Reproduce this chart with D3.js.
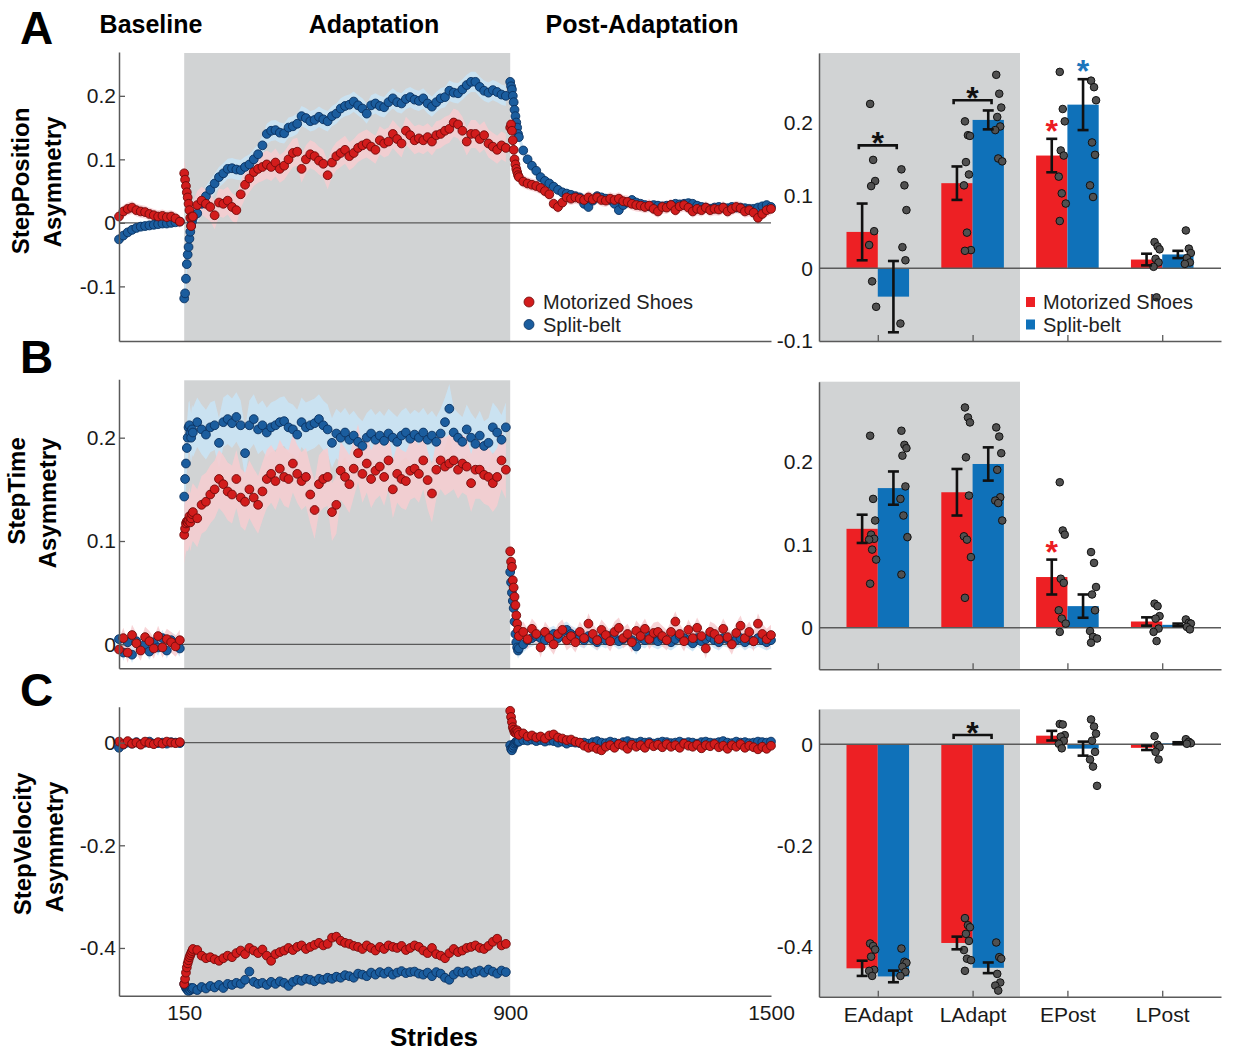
<!DOCTYPE html>
<html>
<head>
<meta charset="utf-8">
<script src="https://cdn.jsdelivr.net/npm/d3@7"></script>
<style>
  body { margin: 0; background: #fff; }
  svg text { font-family: "Liberation Sans", Arial, sans-serif; }
</style>
</head>
<body>
<svg id="fig" width="1246" height="1051"></svg>
<script>
// stride sampling for each phase (denser right after each transition)
const baseStrides = d3.range(0, 150, 10);
const adaptStrides = d3.range(150, 170, 2).concat(d3.range(170, 900, 10));
const postStrides = d3.range(900, 920, 2).concat(d3.range(920, 1501, 10));

// ---- time series, values x 0.001 ----
// StepPosition
const posShoeBase = [10, 18, 22, 24, 20, 18, 17, 14, 12, 10, 11, 9, 10, 7, 2];
const posShoeAdapt = [78, 68, 58, 48, 40, 30, 20, 8, -5, 10,
  10, 28, 35, 30, 25, 12, 32, 30, 35, 25,
  20, 45, 60, 70, 80, 85, 88, 92, 88, 95,
  85, 90, 100, 110, 112, 85, 100, 108, 105, 98,
  93, 75, 95, 105, 110, 115, 105, 110, 118, 122,
  125, 120, 115, 130, 125, 128, 140, 132, 125, 145,
  138, 130, 133, 130, 135, 128, 138, 140, 145, 148,
  158, 155, 145, 128, 140, 140, 132, 138, 125, 120,
  115, 122, 118];
const posShoePost = [150, 155, 145, 130, 115, 100, 92, 85, 80, 75,
  72, 65, 62, 60, 58, 55, 50, 45, 30, 25,
  32, 40, 38, 40, 38, 36, 40, 37, 40, 36,
  35, 38, 36, 38, 34, 33, 30, 28, 27, 25,
  27, 22, 18, 25, 24, 28, 20, 26, 28, 24,
  18, 22, 20, 24, 20, 22, 21, 24, 18, 22,
  25, 23, 18, 20, 16, 8, 14, 20, 22];
const posBeltBase = [-26, -20, -15, -11, -8, -6, -5, -4, -3, -2, -1, -1, 0, 1, 2];
const posBeltAdapt = [-119, -111, -88, -65, -50, -38, -25, -14, -5, 2,
  8, 15, 30, 42, 52, 62, 72, 78, 85, 86,
  84, 83, 88, 92, 100, 108, 122, 140, 145, 146,
  142, 141, 150, 152, 156, 168, 165, 160, 162, 167,
  163, 160, 168, 172, 180, 184, 186, 191, 185, 180,
  172, 185, 188, 184, 182, 190, 196, 190, 188, 195,
  198, 194, 192, 196, 188, 183, 190, 196, 198, 208,
  205, 204, 210, 217, 222, 222, 214, 208, 205, 209,
  206, 202, 200];
const posBeltPost = [222, 215, 210, 200, 190, 178, 168, 158, 150, 140,
  135, 114, 100, 90, 82, 72, 66, 62, 57, 52,
  48, 46, 44, 42, 40, 30, 25, 35, 42, 40,
  38, 36, 30, 20, 28, 32, 36, 32, 30, 28,
  26, 28, 27, 26, 27, 28, 30, 29, 30, 31,
  30, 27, 25, 24, 22, 24, 25, 24, 23, 25,
  24, 24, 23, 22, 22, 24, 26, 28, 25];

// StepTime
const timeShoeBase = [-5, 6, -8, 9, 1, -6, 7, 3, -4, 8, -3, 5, 2, -2, 4];
const timeShoeAdapt = [106, 112, 117, 119, 118, 120, 124, 118, 122, 126,
  128, 122, 135, 138, 145, 150, 160, 155, 148, 145,
  160, 142, 138, 150, 142, 135, 148, 160, 165, 158,
  170, 162, 160, 175, 165, 158, 162, 145, 130, 155,
  160, 162, 128, 135, 168, 162, 155, 170, 185, 165,
  175, 160, 168, 172, 162, 178, 150, 165, 160, 158,
  168, 170, 165, 178, 159, 146, 169, 178, 172, 175,
  178, 169, 175, 172, 156, 169, 169, 164, 162, 156,
  162, 178, 169];
const timeShoePost = [90, 80, 75, 62, 55, 46, 38, 28, 20, 14,
  8, 12, 5, 15, 10, -3, 12, 6, 0, 10,
  14, 4, 8, 2, 12, 6, 20, 10, 4, 14,
  9, 3, 12, 16, 6, 10, 2, 13, 8, 15,
  5, 11, 12, 8, 4, 12, 22, 10, 3, 14,
  6, 16, 8, -4, 12, 10, 5, 15, 7, 0,
  11, 18, 6, 12, 3, 20, 10, 5, 9];
const timeBeltBase = [5, -8, 2, -10, 3, -5, 0, -7, 2, -3, 6, -6, 4, 1, -4];
const timeBeltAdapt = [143, 160, 175, 190, 200, 210, 212, 205, 200, 208,
  205, 215, 208, 203, 210, 212, 195, 215, 218, 214,
  220, 212, 185, 212, 218, 208, 212, 205, 210, 212,
  215, 216, 210, 208, 203, 215, 210, 212, 214, 218,
  212, 208, 195, 204, 200, 205, 198, 202, 196, 192,
  200, 204, 198, 202, 197, 204, 200, 196, 202, 205,
  199, 203, 200, 205, 198, 202, 196, 204, 215, 228,
  205, 200, 196, 208, 200, 194, 202, 192, 195, 210,
  205, 198, 210];
const timeBeltPost = [70, 60, 50, 42, 35, 22, 10, 2, -3, -6,
  -4, 0, 4, 6, 8, 6, 4, 8, 10, 6,
  12, 14, 10, 8, 6, 4, 8, 5, 2, 6,
  4, 8, 6, 3, 5, 7, 4, -2, 6, 4,
  8, 5, 3, 6, 4, 2, 5, 8, 6, 4,
  1, 6, 3, 5, 7, 4, 2, 6, 5, 3,
  4, 6, 2, 5, 3, 6, 4, 2, 4];

// StepVelocity
const velShoeBase = [2, -3, 3, -2, 0, -4, 2, -1, -3, 1, -2, 2, 0, -1, 1];
const velShoeAdapt = [-470, -460, -448, -438, -430, -424, -418, -414, -410, -406,
  -402, -404, -415, -420, -418, -422, -425, -420, -415, -418,
  -410, -405, -412, -400, -405, -410, -403, -415, -425, -412,
  -408, -405, -400, -404, -398, -395, -402, -398, -394, -390,
  -395, -392, -380, -378, -386, -390, -392, -396, -398, -402,
  -395, -400, -405, -398, -402, -395, -398, -400, -396, -404,
  -400, -395, -398, -405, -410, -400, -412, -415, -420, -410,
  -402, -408, -405, -400, -398, -395, -400, -402, -396, -388,
  -382, -395, -392];
const velShoePost = [62, 50, 40, 30, 25, 20, 22, 18, 24, 20,
  15, 18, 12, 14, 10, 12, 8, 14, 16, 10,
  8, 5, 6, 2, 0, -6, -10, -8, -12, -15,
  -8, -5, -10, -3, -6, -12, -4, -8, -5, -10,
  -2, -7, -4, -9, -3, -8, -5, -10, -2, -6,
  -8, -4, -11, -5, -7, -3, -9, -6, -12, -5,
  -8, -3, -10, -6, -9, -13, -8, -12, -6];
const velBeltBase = [-10, -4, 0, -2, 1, -3, 0, 2, -2, -1, 0, -2, 1, 0, -1];
const velBeltAdapt = [-470, -474, -478, -480, -482, -484, -480, -482, -478, -480,
  -478, -482, -476, -479, -474, -477, -472, -478, -470, -472,
  -468, -470, -462, -446, -466, -470, -468, -472, -466, -470,
  -465, -468, -474, -466, -462, -464, -460, -462, -465, -460,
  -462, -458, -460, -456, -458, -453, -455, -458, -450, -452,
  -455, -448, -452, -447, -450, -446, -452, -448, -445, -449,
  -447, -446, -450, -452, -448, -455, -447, -450, -458, -462,
  -452, -446, -448, -445, -450, -447, -444, -448, -442, -446,
  -450, -444, -447];
const velBeltPost = [-5, -12, -15, -10, -6, -2, 0, 2, 3, 2,
  2, 5, 4, 6, 3, 5, 2, 4, 3, 0,
  2, -2, 1, 0, -1, 0, -2, 1, 3, 0,
  -1, 2, 0, -2, 1, 3, 0, -1, 2, 0,
  1, -2, 0, 2, 1, -1, 0, 2, -1, 1,
  0, -2, 1, 2, 0, -1, 1, 3, 0, -1,
  2, 0, 1, -1, 0, 2, 1, 0, 2];

// shaded SE half width per phase (base, adapt, post), x 0.001
const posBandShoe = [10, 22, 10];
const posBandBelt = [8, 16, 8];
const timeBandShoe = [10, 28, 10];
const timeBandBelt = [8, 24, 8];
const velBandShoe = [5, 8, 6];
const velBandBelt = [5, 7, 4];

// ---- epoch bars ----
const epochs = ['EAdapt', 'LAdapt', 'EPost', 'LPost'];
const groupNames = ['Motorized Shoes', 'Split-belt'];

const posShoeMean = [0.050, 0.117, 0.155, 0.012];
const posShoeSe = [0.039, 0.023, 0.023, 0.008];
const posBeltMean = [-0.039, 0.204, 0.225, 0.019];
const posBeltSe = [0.049, 0.013, 0.035, 0.005];
const posShoeSubj = [
  [0.226, 0.149, 0.120, 0.113, 0.051, 0.032, -0.018, -0.053],
  [0.202, 0.183, 0.182, 0.146, 0.129, 0.114, 0.049, 0.025, 0.024],
  [0.270, 0.219, 0.202, 0.162, 0.155, 0.126, 0.103, 0.089, 0.065],
  [0.036, 0.030, 0.026, 0.013, 0.008, 0.002, -0.040]
];
const posBeltSubj = [
  [0.136, 0.114, 0.080, 0.029, 0.011, -0.076],
  [0.266, 0.240, 0.221, 0.208, 0.195, 0.190, 0.151, 0.147],
  [0.258, 0.249, 0.231, 0.173, 0.156, 0.114, 0.098],
  [0.052, 0.027, 0.021, 0.014, 0.008, 0.006]
];

const timeShoeMean = [0.119, 0.163, 0.061, 0.0075];
const timeShoeSe = [0.017, 0.028, 0.021, 0.005];
const timeBeltMean = [0.168, 0.197, 0.026, 0.0035];
const timeBeltSe = [0.020, 0.020, 0.014, 0.0015];
const timeShoeSubj = [
  [0.231, 0.155, 0.129, 0.112, 0.107, 0.106, 0.094, 0.082, 0.053],
  [0.265, 0.253, 0.247, 0.205, 0.159, 0.110, 0.106, 0.085, 0.036],
  [0.175, 0.117, 0.112, 0.059, 0.054, 0.021, 0.011, 0.005, -0.005],
  [0.029, 0.026, 0.014, 0.011, -0.001, -0.005, -0.016]
];
const timeBeltSubj = [
  [0.237, 0.220, 0.216, 0.207, 0.170, 0.155, 0.135, 0.109, 0.064],
  [0.241, 0.230, 0.210, 0.190, 0.157, 0.153, 0.150, 0.129],
  [0.091, 0.078, 0.049, 0.040, 0.021, -0.004, -0.011, -0.013, -0.018],
  [0.010, 0.006, 0.005, 0.001, -0.002]
];

const velShoeMean = [-0.442, -0.392, 0.017, -0.007];
const velShoeSe = [0.015, 0.0125, 0.0095, 0.0043];
const velBeltMean = [-0.458, -0.441, -0.0086, 0.002];
const velBeltSe = [0.0115, 0.0105, 0.0138, 0.002];
const velShoeSubj = [
  [-0.393, -0.398, -0.405, -0.419, -0.445, -0.447, -0.457],
  [-0.343, -0.357, -0.361, -0.374, -0.388, -0.406, -0.423, -0.426, -0.447],
  [0.040, 0.039, 0.018, 0.015, 0.007, 0.001, -0.008],
  [0.016, -0.001, -0.006, -0.015, -0.030]
];
const velBeltSubj = [
  [-0.403, -0.429, -0.431, -0.439, -0.449, -0.457],
  [-0.391, -0.420, -0.423, -0.453, -0.470, -0.476, -0.486],
  [0.049, 0.035, 0.021, 0.007, -0.015, -0.030, -0.044, -0.082],
  [0.010, 0.005, 0.002, 0.001]
];

// significance: shoe vs belt brackets (epoch index, level) and stars vs baseline
const posPairs = [[0, 0.169], [1, 0.231]];
const posShoeStars = [2];
const posBeltStars = [2];
const timePairs = [];
const timeShoeStars = [2];
const timeBeltStars = [];
const velPairs = [[1, 0.0184]];
const velShoeStars = [];
const velBeltStars = [];

const phaseTitles = ['Baseline', 'Adaptation', 'Post-Adaptation'];
const strideTicks = [150, 900, 1500];

const Figure = function(root) {
  let svg;
  let xStride;
  let xEpoch;
  let self;

  const GRAY = '#d1d3d4';
  const AXIS = '#5a5a5a';
  const FONT = '"Liberation Sans", Arial, sans-serif';
  const look = [
    {fill: '#d21c1c', stroke: '#6f0b0b', ribbon: '#f7cdd0', bar: '#ed2024', star: '#ec1c24'},
    {fill: '#1b5d9e', stroke: '#0a3160', ribbon: '#c9e4f6', bar: '#0f71b9', star: '#1c75bc'}
  ];
  const jitter = [-2, 1, 3, -1, 2, -3, 0, 4, -2, 1];
  const tickFmt = v => v === 0 ? '0' : String(+v.toFixed(1));

  const rows = [
    {
      letter: 'A', letterY: 44,
      tsDomain: [-0.186, 0.269], tsRange: [341, 52],
      barDomain: [-0.1, 0.296], barRange: [341, 53],
      ticks: [-0.1, 0, 0.1, 0.2],
      label: ['StepPosition', 'Asymmetry'], labelX: [29, 61], labelY: [181, 182],
      series: [[posShoeBase, posShoeAdapt, posShoePost], [posBeltBase, posBeltAdapt, posBeltPost]],
      bands: [posBandShoe, posBandBelt],
      means: [posShoeMean, posBeltMean], ses: [posShoeSe, posBeltSe],
      subj: [posShoeSubj, posBeltSubj],
      pairs: posPairs, stars: [posShoeStars, posBeltStars]
    },
    {
      letter: 'B', letterY: 373,
      tsDomain: [-0.0232, 0.2565], tsRange: [668.3, 379.3],
      barDomain: [-0.05, 0.296], barRange: [669.3, 381.7],
      ticks: [0, 0.1, 0.2],
      label: ['StepTime', 'Asymmetry'], labelX: [25, 56], labelY: [491, 503],
      series: [[timeShoeBase, timeShoeAdapt, timeShoePost], [timeBeltBase, timeBeltAdapt, timeBeltPost]],
      bands: [timeBandShoe, timeBandBelt],
      means: [timeShoeMean, timeBeltMean], ses: [timeShoeSe, timeBeltSe],
      subj: [timeShoeSubj, timeBeltSubj],
      pairs: timePairs, stars: [timeShoeStars, timeBeltStars]
    },
    {
      letter: 'C', letterY: 706,
      tsDomain: [-0.493, 0.070], tsRange: [995.7, 706.7],
      barDomain: [-0.498, 0.069], barRange: [996.7, 709.3],
      ticks: [-0.4, -0.2, 0],
      label: ['StepVelocity', 'Asymmetry'], labelX: [31, 63], labelY: [844, 847],
      series: [[velShoeBase, velShoeAdapt, velShoePost], [velBeltBase, velBeltAdapt, velBeltPost]],
      bands: [velBandShoe, velBandBelt],
      means: [velShoeMean, velBeltMean], ses: [velShoeSe, velBeltSe],
      subj: [velShoeSubj, velBeltSubj],
      pairs: velPairs, stars: [velShoeStars, velBeltStars],
      bottomLabels: true
    }
  ];

  const Fig = {
    init: (el) => {
      svg = d3.select(el);
      xStride = d3.scaleLinear().domain([0, 1500]).range([119, 771]);
      xEpoch = d3.scaleLinear().domain([0.38, 4.62]).range([819, 1221]);
      rows.forEach(r => {
        self.drawSeries(r);
        self.drawBars(r);
        self.drawRowText(r);
      });
      self.drawTitles();
      self.drawLegends();
    },
    styleAxis: (g, size) => {
      g.select('.domain').attr('stroke', AXIS).attr('stroke-width', 1.5);
      g.selectAll('.tick line').attr('stroke', AXIS).attr('stroke-width', 1.3);
      g.selectAll('text')
        .attr('font-size', size || 21)
        .attr('font-family', FONT)
        .attr('fill', '#1a1a1a');
    },
    drawSeries: (r) => {
      const y = d3.scaleLinear().domain(r.tsDomain).range(r.tsRange);
      const [bottom, top] = r.tsRange;
      const g = svg.append('g');

      g.append('rect')
        .attr('x', xStride(150))
        .attr('y', top + 1)
        .attr('width', xStride(900) - xStride(150))
        .attr('height', bottom - top - 1)
        .attr('fill', GRAY);

      const phases = [baseStrides, adaptStrides, postStrides];
      const groups = r.series.map((vals, k) => phases.map((st, p) =>
        st.map((s, j) => ({s: s, v: vals[p][j] / 1000, b: r.bands[k][p] / 1000}))
          .filter(d => !isNaN(d.v))
      ));

      const area = d3.area()
        .x(d => xStride(d.s))
        .y0(d => y(Math.max(d.v - d.b, r.tsDomain[0])))
        .y1(d => y(Math.min(d.v + d.b, r.tsDomain[1])));

      // belt drawn first so the shoe series sits on top, as in the figure
      [1, 0].forEach(k => {
        groups[k].forEach(pts => {
          g.append('path').datum(pts)
            .attr('d', area)
            .attr('fill', look[k].ribbon)
            .attr('opacity', 0.85);
        });
      });

      g.append('line')
        .attr('x1', xStride(0)).attr('x2', xStride(1500))
        .attr('y1', y(0)).attr('y2', y(0))
        .attr('stroke', AXIS).attr('stroke-width', 1.3);

      [1, 0].forEach(k => {
        g.append('g').selectAll('circle')
          .data(groups[k].flat())
          .join('circle')
          .attr('cx', d => xStride(d.s))
          .attr('cy', d => y(d.v))
          .attr('r', 4.4)
          .attr('fill', look[k].fill)
          .attr('stroke', look[k].stroke)
          .attr('stroke-width', 0.9);
      });

      const yAxis = g.append('g')
        .attr('transform', `translate(${xStride(0)},0)`)
        .call(d3.axisLeft(y).tickValues(r.ticks).tickSizeInner(-6).tickSizeOuter(0)
          .tickPadding(3).tickFormat(tickFmt));
      self.styleAxis(yAxis);

      const xAxis = g.append('g')
        .attr('transform', `translate(0,${bottom})`)
        .call(d3.axisBottom(xStride).tickValues(strideTicks).tickSize(0).tickPadding(9)
          .tickFormat(d => r.bottomLabels ? d : ''));
      self.styleAxis(xAxis);
    },
    drawBars: (r) => {
      const y = d3.scaleLinear().domain(r.barDomain).range(r.barRange);
      const [bottom, top] = r.barRange;
      const g = svg.append('g');
      const half = 0.165;
      const bw = xEpoch(2 * half) - xEpoch(0);

      g.append('rect')
        .attr('x', xEpoch(0.38))
        .attr('y', top)
        .attr('width', xEpoch(2.5) - xEpoch(0.38))
        .attr('height', bottom - top)
        .attr('fill', GRAY);

      const center = (i, k) => xEpoch(i + 1 + (k === 0 ? -half : half));

      [0, 1].forEach(k => {
        g.append('g').selectAll('rect')
          .data(r.means[k])
          .join('rect')
          .attr('x', (d, i) => center(i, k) - bw / 2)
          .attr('width', bw)
          .attr('y', d => y(Math.max(d, 0)))
          .attr('height', d => Math.abs(y(d) - y(0)))
          .attr('fill', look[k].bar);
      });

      g.append('line')
        .attr('x1', xEpoch(0.38)).attr('x2', xEpoch(4.62))
        .attr('y1', y(0)).attr('y2', y(0))
        .attr('stroke', AXIS).attr('stroke-width', 1.3);

      [0, 1].forEach(k => {
        r.subj[k].forEach((vals, i) => {
          g.append('g').selectAll('circle')
            .data(vals)
            .join('circle')
            .attr('cx', (d, j) => center(i, k) + 10 + jitter[j % jitter.length])
            .attr('cy', d => y(d))
            .attr('r', 3.8)
            .attr('fill', '#505050')
            .attr('stroke', '#111')
            .attr('stroke-width', 1);
        });
      });

      [0, 1].forEach(k => {
        r.means[k].forEach((m, i) => {
          const cx = center(i, k);
          const se = r.ses[k][i];
          const eb = g.append('g').attr('stroke', '#111').attr('stroke-width', 2.6);
          eb.append('line').attr('x1', cx).attr('x2', cx).attr('y1', y(m - se)).attr('y2', y(m + se));
          [m - se, m + se].forEach(v => {
            eb.append('line').attr('x1', cx - 5.5).attr('x2', cx + 5.5).attr('y1', y(v)).attr('y2', y(v));
          });
        });
      });

      r.pairs.forEach(([i, level]) => {
        const yy = y(level);
        const x1 = xEpoch(i + 1 - 0.2);
        const x2 = xEpoch(i + 1 + 0.2);
        g.append('path')
          .attr('d', `M${x1},${yy + 4}V${yy}H${x2}V${yy + 4}`)
          .attr('fill', 'none')
          .attr('stroke', '#111')
          .attr('stroke-width', 2.6);
        g.append('text')
          .attr('x', xEpoch(i + 1))
          .attr('y', yy + 9)
          .attr('text-anchor', 'middle')
          .attr('font-size', 32)
          .attr('font-weight', 'bold')
          .attr('fill', '#111')
          .text('*');
      });

      [0, 1].forEach(k => {
        r.stars[k].forEach(i => {
          const topVal = r.means[k][i] + r.ses[k][i];
          g.append('text')
            .attr('x', center(i, k))
            .attr('y', y(topVal) + 3)
            .attr('text-anchor', 'middle')
            .attr('font-size', 32)
            .attr('font-weight', 'bold')
            .attr('fill', look[k].star)
            .text('*');
        });
      });

      const yAxis = g.append('g')
        .attr('transform', `translate(${xEpoch(0.38)},0)`)
        .call(d3.axisLeft(y).tickValues(r.ticks).tickSizeInner(0).tickSizeOuter(0)
          .tickPadding(6).tickFormat(tickFmt));
      self.styleAxis(yAxis);

      const xAxis = g.append('g')
        .attr('transform', `translate(0,${bottom})`)
        .call(d3.axisBottom(xEpoch).tickValues([1, 2, 3, 4]).tickSizeInner(-6).tickSizeOuter(0)
          .tickPadding(10).tickFormat(d => r.bottomLabels ? epochs[d - 1] : ''));
      self.styleAxis(xAxis);
    },
    drawRowText: (r) => {
      svg.append('text')
        .attr('x', 20)
        .attr('y', r.letterY)
        .attr('font-size', 46)
        .attr('font-weight', 'bold')
        .text(r.letter);
      r.label.forEach((t, i) => {
        svg.append('text')
          .attr('transform', `translate(${r.labelX[i]},${r.labelY[i]}) rotate(-90)`)
          .attr('text-anchor', 'middle')
          .attr('font-size', 24)
          .attr('font-weight', 'bold')
          .text(t);
      });
    },
    drawTitles: () => {
      const xs = [151, 374, 642];
      phaseTitles.forEach((t, i) => {
        svg.append('text')
          .attr('x', xs[i])
          .attr('y', 33)
          .attr('text-anchor', 'middle')
          .attr('font-size', 25)
          .attr('font-weight', 'bold')
          .text(t);
      });
      svg.append('text')
        .attr('x', 434)
        .attr('y', 1046)
        .attr('text-anchor', 'middle')
        .attr('font-size', 26)
        .attr('font-weight', 'bold')
        .text('Strides');
    },
    legend: (x, y0, step, marker) => {
      groupNames.forEach((name, k) => {
        marker(y0 + k * step, k);
        svg.append('text')
          .attr('x', x)
          .attr('y', y0 + k * step + 7)
          .attr('font-size', 20)
          .attr('fill', '#222')
          .text(name);
      });
    },
    drawLegends: () => {
      self.legend(543, 302, 22.5, (yc, k) => {
        svg.append('circle')
          .attr('cx', 529).attr('cy', yc).attr('r', 5)
          .attr('fill', look[k].fill).attr('stroke', look[k].stroke).attr('stroke-width', 0.8);
      });
      self.legend(1043, 302, 22.5, (yc, k) => {
        svg.append('rect')
          .attr('x', 1026).attr('y', yc - 5).attr('width', 9).attr('height', 10)
          .attr('fill', look[k].bar);
      });
    }
  };

  self = Fig;
  return self;
}(window);

Figure.init('#fig');
</script>
</body>
</html>
